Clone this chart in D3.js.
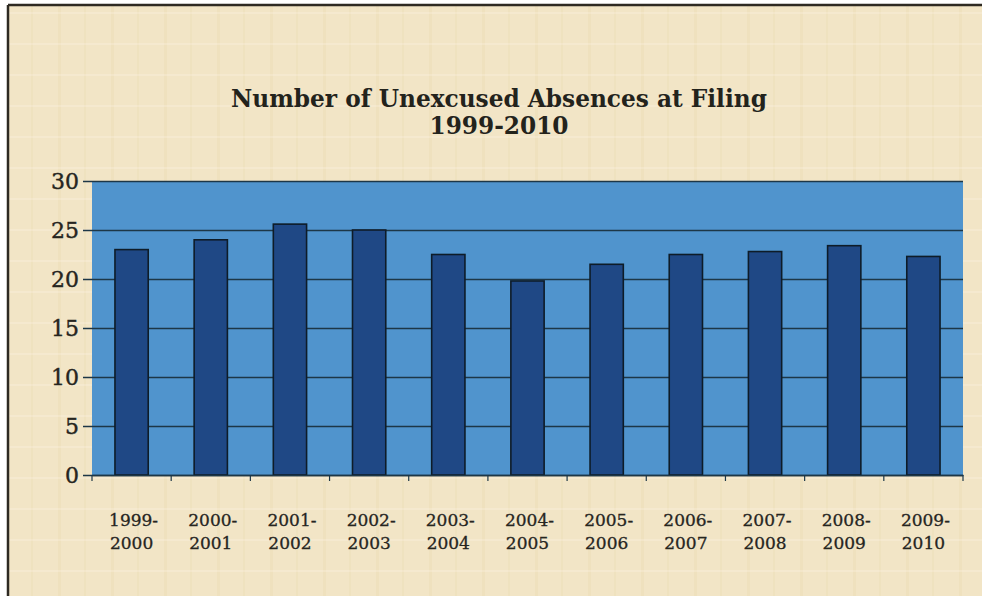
<!DOCTYPE html>
<html>
<head>
<meta charset="utf-8">
<script src="https://cdn.jsdelivr.net/npm/d3@7"></script>
<style>
  html, body { margin: 0; padding: 0; background: #ffffff; }
  svg { display: block; }
</style>
</head>
<body>
<svg id="chart" width="982" height="596"></svg>
<script>
const categories = ["1999-2000","2000-2001","2001-2002","2002-2003","2003-2004","2004-2005","2005-2006","2006-2007","2007-2008","2008-2009","2009-2010"];
const values = [23, 24, 25.6, 25, 22.5, 19.8, 21.5, 22.5, 22.8, 23.4, 22.3];
const yTicks = [0, 5, 10, 15, 20, 25, 30];
const titleLines = ["Number of Unexcused Absences at Filing", "1999-2010"];

const svg = d3.select("#chart");
const W = 982, H = 596;

// parchment background with frame
svg.append("rect").attr("x", 8).attr("y", 5).attr("width", W - 8).attr("height", H - 5)
  .attr("fill", "#f2e5c6");
const defs = svg.append("defs");
const pat = defs.append("pattern").attr("id", "tex").attr("patternUnits", "userSpaceOnUse")
  .attr("width", 53).attr("height", 31);
pat.append("rect").attr("x", 5).attr("y", 0).attr("width", 3).attr("height", 31).attr("fill", "#e6d3a6").attr("opacity", 0.25);
pat.append("rect").attr("x", 31).attr("y", 0).attr("width", 2).attr("height", 31).attr("fill", "#e8d7ad").attr("opacity", 0.25);
pat.append("rect").attr("x", 0).attr("y", 12).attr("width", 53).attr("height", 2).attr("fill", "#f8f0de").attr("opacity", 0.35);
svg.append("rect").attr("x", 8).attr("y", 5).attr("width", W - 8).attr("height", H - 5)
  .attr("fill", "url(#tex)");
svg.append("line").attr("x1", 8).attr("x2", 8).attr("y1", 5).attr("y2", H).attr("stroke", "#2e2a22").attr("stroke-width", 2.5);
svg.append("line").attr("x1", 8).attr("x2", W).attr("y1", 5).attr("y2", 5).attr("stroke", "#2e2a22").attr("stroke-width", 2.5);

const plot = { left: 92, right: 963, top: 181, bottom: 475 };

const x = d3.scaleBand().domain(categories).range([plot.left, plot.right]).paddingInner(0.58).paddingOuter(0.29);
const xb = d3.scaleBand().domain(categories).range([plot.left, plot.right]).padding(0);
const y = d3.scaleLinear().domain([0, 30]).range([plot.bottom, plot.top]);

// plot area
svg.append("rect").attr("x", plot.left).attr("y", plot.top)
  .attr("width", plot.right - plot.left).attr("height", plot.bottom - plot.top)
  .attr("fill", "#5094cd");

// gridlines + y ticks
const yAxis = d3.axisLeft(y).tickValues(yTicks).tickSize(-(plot.right - plot.left)).tickPadding(13).tickSizeOuter(0);
const gy = svg.append("g").attr("transform", `translate(${plot.left},0)`).call(yAxis);
gy.select(".domain").remove();
gy.selectAll(".tick line").attr("stroke", "#1d3747").attr("stroke-width", 1.4).attr("x1", -9);
gy.selectAll(".tick text").attr("font-family", "'DejaVu Serif', serif").attr("font-size", 22)
  .attr("fill", "#26251f").attr("stroke", "#26251f").attr("stroke-width", 0.4);

// bars
svg.append("g").selectAll("rect").data(values).join("rect")
  .attr("x", (d, i) => x(categories[i]))
  .attr("y", d => y(d))
  .attr("width", x.bandwidth())
  .attr("height", d => y(0) - y(d))
  .attr("fill", "#1f4885")
  .attr("stroke", "#0e1c28").attr("stroke-width", 1.6);

// x axis
const xAxis = d3.axisBottom(xb).tickSize(0).tickFormat("");
const gx = svg.append("g").attr("transform", `translate(0,${plot.bottom})`).call(xAxis);
gx.select(".domain").attr("stroke", "#1d3747").attr("stroke-width", 1.4);
const bounds = categories.map(c => xb(c)).concat([plot.right]);
gx.selectAll("line.bound").data(bounds).join("line").attr("class", "bound")
  .attr("x1", d => d).attr("x2", d => d).attr("y1", 0).attr("y2", 6)
  .attr("stroke", "#1d3747").attr("stroke-width", 1.2);

const lbl = svg.append("g").selectAll("text").data(categories).join("text")
  .attr("x", d => xb(d) + xb.bandwidth() / 2)
  .attr("text-anchor", "middle")
  .attr("font-family", "'DejaVu Serif', serif").attr("font-size", 17).attr("fill", "#26251f")
  .attr("stroke", "#26251f").attr("stroke-width", 0.3);
lbl.append("tspan").attr("x", d => xb(d) + xb.bandwidth() / 2 + 2).attr("y", 526).text(d => d.split("-")[0] + "-");
lbl.append("tspan").attr("x", d => xb(d) + xb.bandwidth() / 2).attr("y", 549).text(d => d.split("-")[1]);

// title
const tt = svg.append("g").selectAll("text").data(titleLines).join("text")
  .attr("x", 499).attr("y", (d, i) => 107 + i * 27)
  .attr("text-anchor", "middle")
  .attr("font-family", "'DejaVu Serif', serif").attr("font-weight", "bold").attr("font-size", 22)
  .attr("fill", "#23231c")
  .text(d => d);
const len0 = tt.nodes()[0].getComputedTextLength();
const fs = 22 * 536 / len0;
tt.attr("font-size", fs);
</script>
</body>
</html>
